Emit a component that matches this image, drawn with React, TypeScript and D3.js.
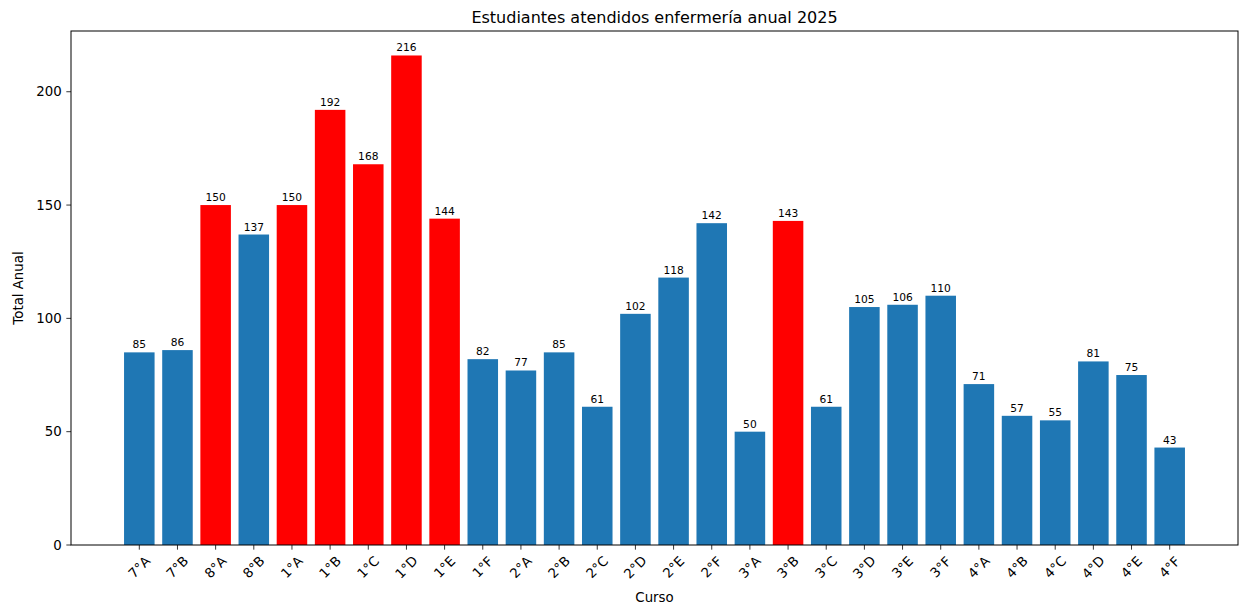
import React from "react";
import * as d3 from "d3";

const categories = ["7°A","7°B","8°A","8°B","1°A","1°B","1°C","1°D","1°E","1°F","2°A","2°B","2°C","2°D","2°E","2°F","3°A","3°B","3°C","3°D","3°E","3°F","4°A","4°B","4°C","4°D","4°E","4°F"];
const values = [85,86,150,137,150,192,168,216,144,82,77,85,61,102,118,142,50,143,61,105,106,110,71,57,55,81,75,43];
const highlighted = ["8°A","1°A","1°B","1°C","1°D","1°E","3°B"];
const yTicks = [0, 50, 100, 150, 200];
const title = "Estudiantes atendidos enfermería anual 2025";
const xLabel = "Curso";
const yLabel = "Total Anual";

const W = 1239, H = 605;
const left = 71, right = 1238, top = 31, bottom = 545;
const font = "DejaVu Sans, sans-serif";

export default function App() {
  const n = categories.length;
  const barW = 0.8;
  const margin = (n - 1 + barW) * 0.05;
  const x = d3.scaleLinear().domain([-barW / 2 - margin, n - 1 + barW / 2 + margin]).range([left, right]);
  const maxV = d3.max(values) as number;
  const y = d3.scaleLinear().domain([0, maxV * 1.05]).range([bottom, top]);
  const bw = x(barW) - x(0);

  return (
    <svg width={W} height={H} style={{ position: "absolute", left: 0, top: 0, background: "#fff" }} fontFamily={font}>
      <rect x={0} y={0} width={W} height={H} fill="#fff" />
      {categories.map((c, i) => (
        <g key={c}>
          <rect x={x(i) - bw / 2} y={y(values[i])} width={bw} height={y(0) - y(values[i])}
            fill={highlighted.includes(c) ? "#ff0000" : "#1f77b4"} />
          <text x={x(i)} y={y(values[i]) - 4} textAnchor="middle" fontSize={10.67} fill="#000">{values[i]}</text>
          <line x1={x(i)} x2={x(i)} y1={bottom} y2={bottom + 4.67} stroke="#000" strokeWidth={0.8} />
          <text transform={`translate(${x(i)},${bottom + 9.3 + 13}) rotate(-45)`} textAnchor="middle"
            dominantBaseline="central" fontSize={13.33} fill="#000">{c}</text>
        </g>
      ))}
      {yTicks.map(t => (
        <g key={t}>
          <line x1={left - 4.67} x2={left} y1={y(t)} y2={y(t)} stroke="#000" strokeWidth={0.8} />
          <text x={left - 9.3} y={y(t)} textAnchor="end" dominantBaseline="central" fontSize={13.33} fill="#000">{t}</text>
        </g>
      ))}
      <rect x={left} y={top} width={right - left} height={bottom - top} fill="none" stroke="#000" strokeWidth={1} />
      <text x={(left + right) / 2} y={23} textAnchor="middle" fontSize={16} fill="#000">{title}</text>
      <text x={(left + right) / 2} y={602} textAnchor="middle" fontSize={13.33} fill="#000">{xLabel}</text>
      <text transform={`translate(23,${(top + bottom) / 2}) rotate(-90)`} textAnchor="middle" fontSize={13.33} fill="#000">{yLabel}</text>
    </svg>
  );
}
